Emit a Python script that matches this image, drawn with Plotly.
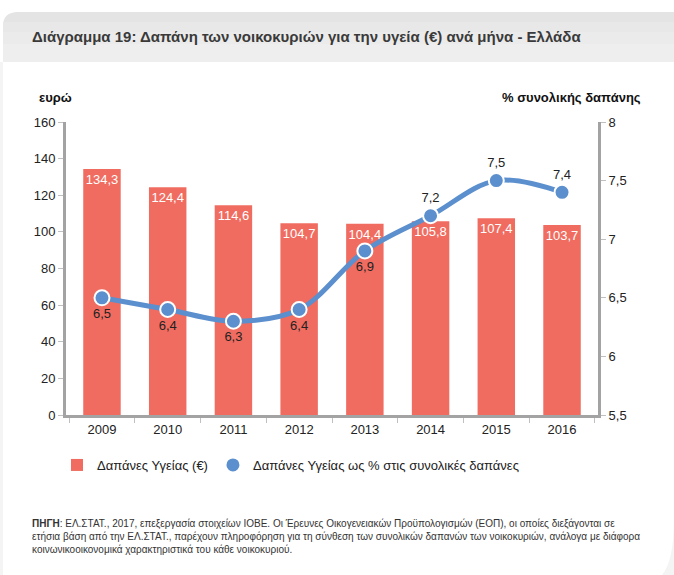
import plotly.graph_objects as go

years = ["2009", "2010", "2011", "2012", "2013", "2014", "2015", "2016"]
spend_eur = [134.3, 124.4, 114.6, 104.7, 104.4, 105.8, 107.4, 103.7]
spend_pct = [6.5, 6.4, 6.3, 6.4, 6.9, 7.2, 7.5, 7.4]
pct_label_pos = ["bottom center"] * 5 + ["top center"] * 3

title_text = "Διάγραμμα 19: Δαπάνη των νοικοκυριών για την υγεία (€) ανά μήνα - Ελλάδα"
name_bar = "Δαπάνες Υγείας (€)"
name_line = "Δαπάνες Υγείας ως % στις συνολικές δαπάνες"
left_title = "ευρώ"
right_title = "% συνολικής δαπάνης"
source_text = ("<b>ΠΗΓΗ</b>: ΕΛ.ΣΤΑΤ., 2017, επεξεργασία στοιχείων ΙΟΒΕ. Οι Έρευνες Οικογενειακών Προϋπολογισμών (ΕΟΠ), οι οποίες διεξάγονται σε<br>"
               "ετήσια βάση από την ΕΛ.ΣΤΑΤ., παρέχουν πληροφόρηση για τη σύνθεση των συνολικών δαπανών των νοικοκυριών, ανάλογα με διάφορα<br>"
               "κοινωνικοοικονομικά χαρακτηριστικά του κάθε νοικοκυριού.")

W, H = 674, 575
L, R, T, B = 66, 598, 122, 415
FONT = "Liberation Sans, Arial, sans-serif"
RED = "#f06c60"
BLUE = "#5b8fcd"


def px(x):
    return (x - L) / (R - L)


def py(y):
    return (B - y) / (B - T)


fig = go.Figure()
fig.add_trace(go.Bar(
    x=years, y=spend_eur, name=name_bar, marker=dict(color=RED, line=dict(width=0)),
    texttemplate="%{y:.1f}", textposition="inside", insidetextanchor="end", textangle=0,
    constraintext="none", textfont=dict(color="white", size=13, family=FONT),
    width=0.57,
))
fig.add_trace(go.Scatter(
    x=years, y=spend_pct, yaxis="y2", mode="lines", showlegend=False,
    line=dict(color=BLUE, width=5, shape="spline", smoothing=1.0), hoverinfo="skip",
))
fig.add_trace(go.Scatter(
    x=years, y=spend_pct, yaxis="y2", mode="markers+text", name=name_line,
    marker=dict(color=BLUE, size=15, line=dict(color="white", width=2)),
    texttemplate="%{y:.1f}", textposition=pct_label_pos,
    textfont=dict(color="#222222", size=13, family=FONT),
))

shapes = []
# header band (rounded top-left corner), simulated gradient
bands = [("#e4e4e4", 12, 22), ("#e8e8e8", 22, 32), ("#ebebeb", 32, 44), ("#eeeeee", 44, 62)]
for col, y0, y1 in bands:
    if y0 == 12:
        path = (f"M {px(3)},{py(y1)} L {px(3)},{py(26)} Q {px(3)},{py(12)} {px(18)},{py(12)} "
                f"L {px(674)},{py(12)} L {px(674)},{py(y1)} Z")
    else:
        path = (f"M {px(3)},{py(y1)} L {px(3)},{py(y0)} L {px(674)},{py(y0)} L {px(674)},{py(y1)} Z")
    shapes.append(dict(type="path", path=path, xref="paper", yref="paper",
                       fillcolor=col, line=dict(width=0), layer="below"))
# faint card edges
shapes.append(dict(type="rect", xref="paper", yref="paper", x0=px(0), x1=px(3), y0=py(575), y1=py(62),
                   fillcolor="#f4f4f4", line=dict(width=0), layer="below"))
shapes.append(dict(type="path", xref="paper", yref="paper",
                   path=f"M {px(662)},{py(575)} Q {px(674)},{py(560)} {px(674)},{py(520)} L {px(674)},{py(575)} Z",
                   fillcolor="#f4f4f4", line=dict(width=0), layer="below"))

annotations = [
    dict(text=f"<b>{left_title}</b>", x=px(37), y=py(98), xref="paper", yref="paper",
         xanchor="left", yanchor="middle", showarrow=False, font=dict(size=13, color="#111", family=FONT)),
    dict(text=f"<b>{right_title}</b>", x=px(643), y=py(98), xref="paper", yref="paper",
         xanchor="right", yanchor="middle", showarrow=False, font=dict(size=13, color="#111", family=FONT)),
    dict(text=source_text, x=px(30), y=py(516), xref="paper", yref="paper",
         xanchor="left", yanchor="top", align="left", showarrow=False,
         font=dict(size=10, color="#333", family=FONT)),
    dict(text=f"<b>{title_text}</b>", x=px(30), y=py(37), xref="paper", yref="paper",
         xanchor="left", yanchor="middle", showarrow=False,
         font=dict(size=15, color="#3a3a3a", family=FONT)),
]

fig.update_layout(
    width=W, height=H, margin=dict(l=L, r=W - R, t=T, b=H - B),
    paper_bgcolor="white", plot_bgcolor="rgba(0,0,0,0)",
    separators=",.", font=dict(family=FONT, size=13, color="#222"),
    barmode="overlay", showlegend=True,
    legend=dict(orientation="h", x=px(57), y=py(465), xanchor="left", yanchor="middle",
                font=dict(size=13, color="#222"), bgcolor="rgba(0,0,0,0)", traceorder="normal",
                itemwidth=30),
    xaxis=dict(type="category", showgrid=False, showline=True, linecolor="#a3a3a3", linewidth=3,
               ticks="outside", tickson="boundaries", ticklen=5, tickcolor="#c0c0c0", tickwidth=1,
               tickfont=dict(size=13, color="#222"), zeroline=False),
    yaxis=dict(range=[0, 160], dtick=20, showgrid=False, showline=True, linecolor="#a3a3a3", linewidth=3,
               ticks="outside", ticklen=5, tickcolor="#c0c0c0", zeroline=False,
               tickfont=dict(size=13, color="#222")),
    yaxis2=dict(range=[5.5, 8], dtick=0.5, overlaying="y", side="right", showgrid=False,
                showline=True, linecolor="#a3a3a3", linewidth=3, ticks="outside", ticklen=5,
                tickcolor="#c0c0c0", zeroline=False, tickfont=dict(size=13, color="#222")),
    shapes=shapes, annotations=annotations,
)

fig.write_html("out.html")
